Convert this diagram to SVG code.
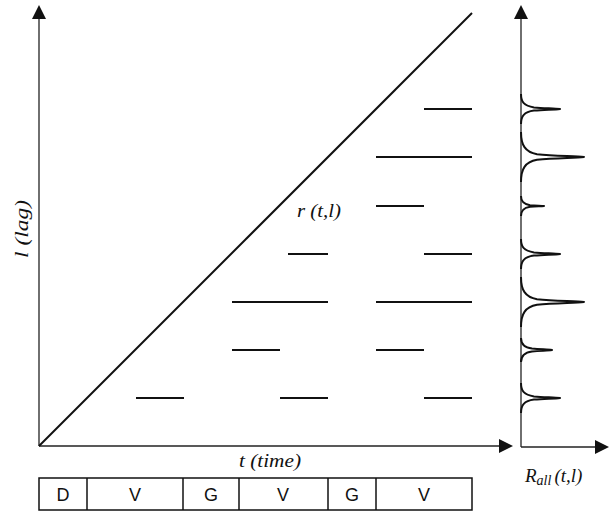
<svg xmlns="http://www.w3.org/2000/svg" width="611" height="512" viewBox="0 0 611 512">
<style>
.ax{stroke:#222;stroke-width:1.3;fill:none}
.seg{stroke:#111;stroke-width:2;fill:none}
.pk{stroke:#111;stroke-width:2;fill:none;stroke-linejoin:round}
.it{font-family:"Liberation Serif","DejaVu Serif",serif;font-style:italic;font-size:19px;fill:#111}
.bx{fill:none;stroke:#111;stroke-width:1.5}
.bt{font-family:"Liberation Sans",Arial,sans-serif;font-size:18px;fill:#111;text-anchor:middle}
</style>
<defs>
<marker id="arr" markerUnits="userSpaceOnUse" markerWidth="14" markerHeight="14" viewBox="0 0 14 14" refX="0" refY="7" orient="auto">
<path d="M0,0 L14,7 L0,14 z" fill="#111"/>
</marker>
</defs>
<g id="connectors">
<line class="ax" x1="39" y1="446" x2="39" y2="19" marker-end="url(#arr)"/>
<line class="ax" x1="39" y1="446" x2="499" y2="446" marker-end="url(#arr)"/>
<line class="ax" x1="521" y1="447" x2="521" y2="19" marker-end="url(#arr)"/>
<line class="ax" x1="521" y1="447" x2="595" y2="447" marker-end="url(#arr)"/>
<line class="seg" x1="39" y1="446" x2="472" y2="13"/>
</g>
<g id="segments">
<line class="seg" x1="424" y1="109" x2="472" y2="109"/>
<line class="seg" x1="376" y1="157" x2="472" y2="157"/>
<line class="seg" x1="376" y1="206" x2="424" y2="206"/>
<line class="seg" x1="288" y1="254" x2="328" y2="254"/>
<line class="seg" x1="424" y1="254" x2="472" y2="254"/>
<line class="seg" x1="232" y1="302" x2="328" y2="302"/>
<line class="seg" x1="376" y1="302" x2="472" y2="302"/>
<line class="seg" x1="232" y1="350" x2="280" y2="350"/>
<line class="seg" x1="376" y1="350" x2="424" y2="350"/>
<line class="seg" x1="136" y1="398" x2="184" y2="398"/>
<line class="seg" x1="280" y1="398" x2="328" y2="398"/>
<line class="seg" x1="424" y1="398" x2="472" y2="398"/>
</g>
<g id="peaks">
<path class="pk" d="M521,94 C521,102 524,106 534,107.4 C545,108.3 555,108.3 560,109 C555,109.7 545,109.7 534,110.6 C524,112 521,116 521,124"/>
<path class="pk" d="M521,132 C521,145 525,152 537,154.2 C555,156 575,156 584,157 C575,158 555,158 537,159.8 C525,162 521,169 521,182"/>
<path class="pk" d="M521,196 C521,201 523,204 530,205.2 C537,205.7 541,205.7 544,206 C541,206.3 537,206.3 530,206.8 C523,208 521,211 521,216"/>
<path class="pk" d="M521,239 C521,247 524,251 534,252.4 C545,253.3 555,253.3 560,254 C555,254.7 545,254.7 534,255.6 C524,257 521,261 521,269"/>
<path class="pk" d="M521,277 C521,290 525,297 537,299.2 C555,301 575,301 584,302 C575,303 555,303 537,304.8 C525,307 521,314 521,327"/>
<path class="pk" d="M521,338 C521,344 524,347.5 532,348.6 C541,349.4 548,349.4 552,350 C548,350.6 541,350.6 532,351.4 C524,352.5 521,356 521,362"/>
<path class="pk" d="M521,383 C521,391 524,395 534,396.4 C545,397.3 555,397.3 560,398 C555,398.7 545,398.7 534,399.6 C524,401 521,405 521,413"/>
</g>
<g id="labels">
<text class="it" x="297" y="217" textLength="44" lengthAdjust="spacingAndGlyphs">r (t,l)</text>
<text class="it" x="239" y="467" textLength="62" lengthAdjust="spacingAndGlyphs">t (time)</text>
<text class="it" transform="translate(28,258) rotate(-90)" textLength="58" lengthAdjust="spacingAndGlyphs">l (lag)</text>
<text class="it" x="525" y="482" font-size="20">R<tspan font-size="14" dy="3">all</tspan><tspan dy="-3" dx="3" font-size="19">(t,l)</tspan></text>
</g>
<g id="timeline">
<rect class="bx" x="39" y="478" width="433" height="32"/>
<line class="bx" x1="87" y1="478" x2="87" y2="510"/>
<line class="bx" x1="183" y1="478" x2="183" y2="510"/>
<line class="bx" x1="239" y1="478" x2="239" y2="510"/>
<line class="bx" x1="328" y1="478" x2="328" y2="510"/>
<line class="bx" x1="376" y1="478" x2="376" y2="510"/>
<text class="bt" x="63" y="501">D</text>
<text class="bt" x="135" y="501">V</text>
<text class="bt" x="211" y="501">G</text>
<text class="bt" x="283" y="501">V</text>
<text class="bt" x="352" y="501">G</text>
<text class="bt" x="424" y="501">V</text>
</g>
</svg>
